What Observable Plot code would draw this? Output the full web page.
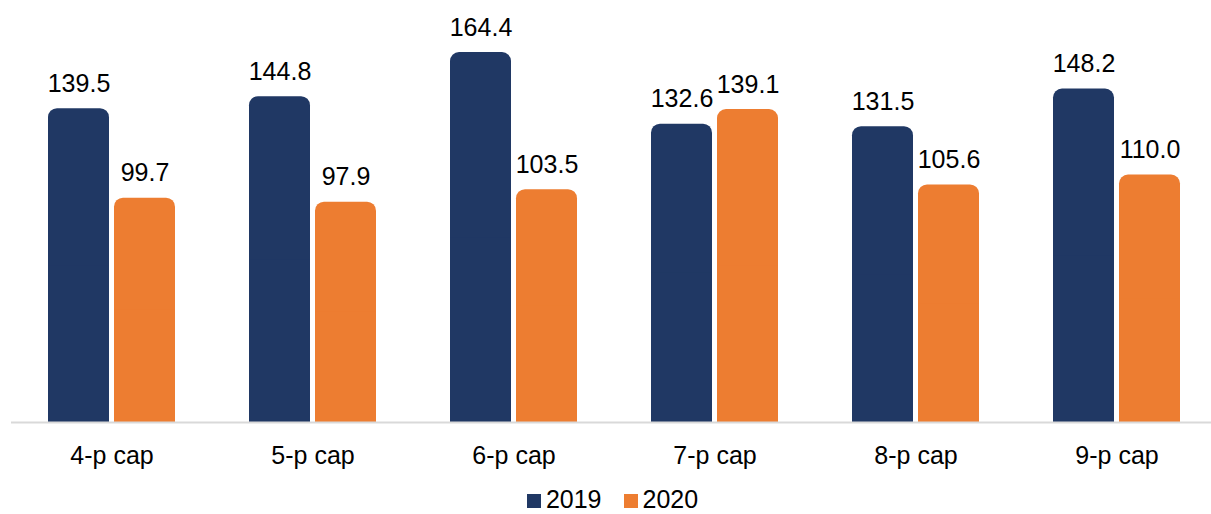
<!DOCTYPE html>
<html>
<head>
<meta charset="utf-8">
<script src="https://cdn.jsdelivr.net/npm/d3@7"></script>
<script src="https://cdn.jsdelivr.net/npm/@observablehq/plot@0.6"></script>
<style>
  html, body { margin: 0; padding: 0; background: #fff; }
  body { width: 1211px; height: 514px; overflow: hidden; font-family: "Liberation Sans", Arial, sans-serif; }
  #chart svg { overflow: hidden; }
  #legend { height: 34px; padding-top: 4px; box-sizing: border-box; display: flex; justify-content: center; align-items: center; gap: 22px; font-size: 25px; line-height: normal; color: #000; padding-left: 14px; }
  #legend span.item { display: inline-flex; align-items: center; gap: 5px; }
  #legend span.sw { width: 14px; height: 14px; display: inline-block; margin-top: 3px; }
</style>
</head>
<body>
<div id="chart"></div>
<div id="legend"></div>
<script>
const categories = ["4-p cap", "5-p cap", "6-p cap", "7-p cap", "8-p cap", "9-p cap"];
const years = ["2019", "2020"];
const values2019 = [139.5, 144.8, 164.4, 132.6, 131.5, 148.2];
const values2020 = [99.7, 97.9, 103.5, 139.1, 105.6, 110.0];
const colors = ["#203864", "#ED7D31"];

const data = [];
categories.forEach((c, i) => {
  data.push({cat: c, year: years[0], value: values2019[i]});
  data.push({cat: c, year: years[1], value: values2020[i]});
});

const chart = Plot.plot({
  width: 1211,
  height: 480,
  marginLeft: 9,
  marginRight: -8,
  marginTop: 17,
  marginBottom: 58,
  style: {fontFamily: "Liberation Sans, Arial, sans-serif", fontSize: "25px", color: "#000", background: "#fff"},
  fx: {domain: categories, padding: 0, label: null, tickSize: 0, tickPadding: 24},
  x: {domain: years, paddingInner: 0.075, paddingOuter: 0.54, axis: null},
  y: {domain: [0, 180], axis: null},
  color: {domain: years, range: colors},
  marks: [
    Plot.barY(data, {fx: "cat", x: "year", y: "value", fill: "year", rx: 9}),
    Plot.barY(data, {fx: "cat", x: "year", y: d => d.value / 2, fill: "year"}),
    Plot.ruleY([0], {stroke: "#d9d9d9", strokeWidth: 2}),
    Plot.text(data, {fx: "cat", x: "year", y: "value", text: d => d.value.toFixed(1), lineAnchor: "bottom", dy: -17, fill: "#000", fontSize: 25})
  ]
});
document.getElementById("chart").appendChild(chart);

const legend = document.getElementById("legend");
years.forEach((y, i) => {
  const item = document.createElement("span");
  item.className = "item";
  const sw = document.createElement("span");
  sw.className = "sw";
  sw.style.background = colors[i];
  item.appendChild(sw);
  item.appendChild(document.createTextNode(y));
  legend.appendChild(item);
});
</script>
</body>
</html>
